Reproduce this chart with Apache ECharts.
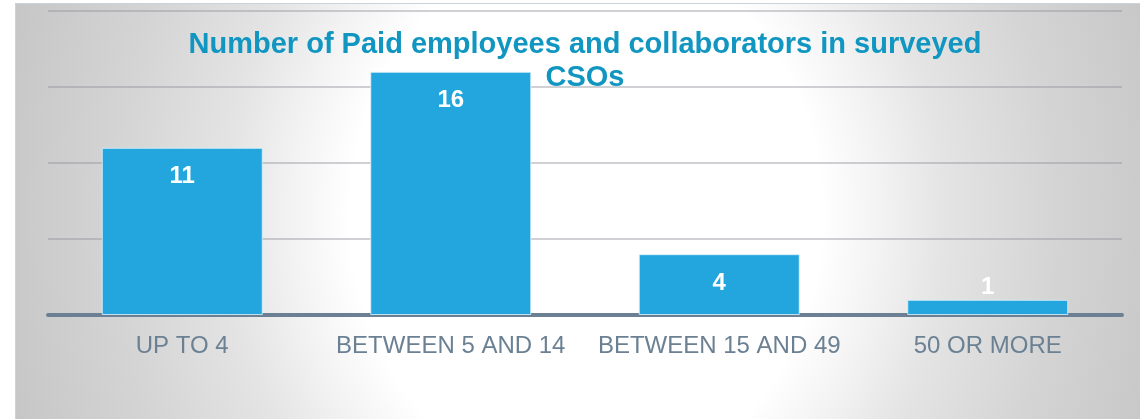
<!DOCTYPE html>
<html>
<head>
<meta charset="utf-8">
<script src="https://cdn.jsdelivr.net/npm/echarts@6/dist/echarts.min.js"></script>
<style>
  html, body { margin: 0; padding: 0; background: #ffffff; }
  #wrap { position: relative; width: 1140px; height: 419px; overflow: hidden; }
  /* chart panel: soft white glow in the middle fading to grey at the sides */
  #panel {
    position: absolute; left: 15px; top: 3px; width: 1125px; height: 416px;
    border-left: 1px solid #c9d3db; border-top: 1px solid #c9d3db; box-sizing: border-box;
    background: radial-gradient(ellipse 620px 710px at 570px 212px,
      #ffffff 0%, #ffffff 38%, #f2f2f2 48%, #e4e4e4 58%, #d4d4d4 76%, #c4c4c4 100%);
  }
  #chart { position: absolute; left: 0; top: 0; width: 1140px; height: 419px; }
</style>
</head>
<body>
<div id="wrap">
  <div id="panel"></div>
  <div id="chart"></div>
</div>
<script>
// Survey results: paid employees and collaborators per organisation
const categories = ['UP TO 4', 'BETWEEN 5 AND 14', 'BETWEEN 15 AND 49', '50 OR MORE'];
const counts = [11, 16, 4, 1];
const valueTicks = [0, 5, 10, 15, 20];

const chart = echarts.init(document.getElementById('chart'), null, { renderer: 'canvas' });

const barData = counts.map(function (v) {
  // a bar too short to hold its label gets the label just above it
  if (v < 2) {
    return { value: v, label: { position: 'top', distance: 0 } };
  }
  return v;
});

chart.setOption({
  backgroundColor: 'transparent',
  animation: false,
  title: {
    text: 'Number of Paid employees and collaborators in surveyed\nCSOs',
    left: 580,
    top: 23,
    textAlign: 'center',
    textStyle: {
      fontFamily: 'Liberation Sans, Arial, sans-serif',
      fontSize: 29,
      fontWeight: 'bold',
      color: '#1096c0',
      lineHeight: 33
    }
  },
  grid: { left: 48, right: 18, top: 11, bottom: 104, containLabel: false },
  xAxis: {
    type: 'category',
    data: categories,
    axisTick: { show: false },
    axisLine: { show: true, lineStyle: { color: '#6b8193', width: 4 } },
    axisLabel: {
      interval: 0,
      color: '#6b8193',
      fontFamily: 'Liberation Sans, Arial, sans-serif',
      fontSize: 24,
      margin: 19
    }
  },
  yAxis: {
    type: 'value',
    min: valueTicks[0],
    max: valueTicks[valueTicks.length - 1],
    interval: valueTicks[1] - valueTicks[0],
    axisLabel: { show: false },
    axisLine: { show: false },
    axisTick: { show: false },
    splitLine: { show: true, lineStyle: { color: 'rgba(140,146,152,0.42)', width: 2 } }
  },
  series: [{
    type: 'bar',
    data: barData,
    barWidth: 161,
    itemStyle: {
      color: '#23a6de',
      borderColor: 'rgba(225,242,252,0.8)',
      borderWidth: 1
    },
    label: {
      show: true,
      position: 'insideTop',
      distance: 17,
      color: '#ffffff',
      fontFamily: 'Liberation Sans, Arial, sans-serif',
      fontSize: 24,
      fontWeight: 'bold'
    }
  }]
});
</script>
</body>
</html>
